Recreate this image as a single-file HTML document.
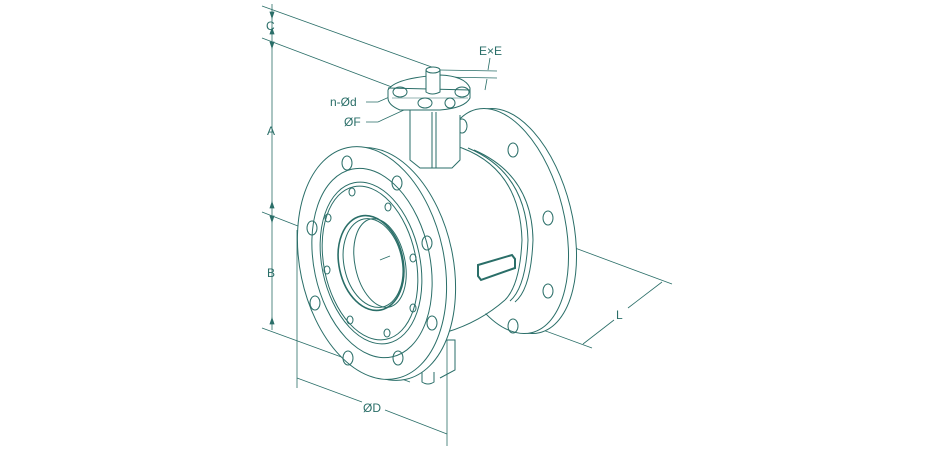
<!DOCTYPE html>
<html><head><meta charset="utf-8"><style>
html,body{margin:0;padding:0;background:#fff;}
svg{display:block}
text{font-family:"Liberation Sans",sans-serif;fill:#2a6e68;font-size:12px}
</style></head><body>
<svg width="940" height="450" viewBox="0 0 940 450" xmlns="http://www.w3.org/2000/svg">
<g fill="none" stroke="#2a6e68" stroke-width="1">
<!-- extension lines -->
<line x1="262" y1="6" x2="440" y2="70" stroke-width="0.8"/>
<line x1="262" y1="38" x2="405" y2="92" stroke-width="0.8"/>
<line x1="262" y1="212" x2="380" y2="258" stroke-width="0.8"/>
<line x1="262" y1="328" x2="410" y2="382" stroke-width="0.8"/>
<!-- vertical dim -->
<line x1="272" y1="4" x2="272" y2="330" stroke-width="0.8"/>
<path d="M270 12 l2 6 l2 -6 Z M270 34 l2 -6 l2 6 Z M270 42 l2 6 l2 -6 Z M270 208 l2 -6 l2 6 Z M270 216 l2 6 l2 -6 Z M270 324 l2 -6 l2 6 Z" fill="#2a6e68" stroke-width="0.8"/>
<!-- ØD -->
<line x1="297" y1="230" x2="297" y2="388" stroke-width="0.8"/>
<line x1="447" y1="340" x2="447" y2="446" stroke-width="0.8"/>
<line x1="297" y1="378" x2="362" y2="402" stroke-width="0.8"/>
<line x1="385" y1="410" x2="447" y2="434" stroke-width="0.8"/>
<!-- L -->
<line x1="575" y1="248" x2="672" y2="284" stroke-width="0.8"/>
<line x1="450" y1="296" x2="592" y2="348" stroke-width="0.8"/>
<line x1="583" y1="344" x2="614" y2="320" stroke-width="0.8"/>
<line x1="628" y1="308" x2="662" y2="282" stroke-width="0.8"/>
<!-- E x E -->
<line x1="440" y1="70" x2="497" y2="71" stroke-width="0.8"/>
<line x1="440" y1="77" x2="497" y2="78" stroke-width="0.8"/>
<line x1="490" y1="58" x2="488" y2="70" stroke-width="0.8"/>
<line x1="487" y1="79" x2="485" y2="90" stroke-width="0.8"/>
<!-- leaders -->
<path d="M366 102 h12 l18 -8" stroke-width="0.8"/>
<path d="M366 122 h12 l26 -12" stroke-width="0.8"/>

<!-- back flange -->
<ellipse cx="512" cy="221" rx="60" ry="115" transform="rotate(-14 512 221)" fill="#fff"/>
<ellipse cx="504" cy="221" rx="60" ry="115" transform="rotate(-14 504 221)" fill="#fff"/>
<ellipse cx="462" cy="126" rx="5" ry="7"/>
<ellipse cx="513" cy="150" rx="5" ry="7"/>
<ellipse cx="548" cy="218" rx="5" ry="7"/>
<ellipse cx="548" cy="291" rx="5" ry="7"/>
<ellipse cx="513" cy="326" rx="5" ry="7"/>
<!-- body -->
<path d="M410 153 Q440 140 462 148 Q520 170 522 240 Q520 285 505 300 Q480 320 447 332 L400 332 L400 153 Z" fill="#fff" stroke="none"/>
<path d="M410 153 Q440 140 462 148"/>
<path d="M462 148 Q520 170 522 240 Q520 285 505 300"/>
<path d="M468 148 Q526 172 528 240 Q526 287 510 301"/>
<path d="M474 150 Q532 175 533 240 Q531 289 515 302"/>
<path d="M447 332 Q480 322 505 300"/>
<!-- neck -->
<path d="M410 110 L410 160 L420 168 L452 168 L460 160 L460 115" fill="#fff"/>
<line x1="432" y1="112" x2="432" y2="168"/>
<line x1="436" y1="112" x2="436" y2="168"/>
<!-- top plate -->
<path d="M388 90 Q395 78 440 75 Q465 76 470 88 L470 98 Q465 108 440 110 L400 110 Q388 105 388 98 Z" fill="#fff"/>
<path d="M388 88 L470 90" />
<path d="M392 98 L468 98" stroke-width="0.6"/>
<ellipse cx="400" cy="92" rx="7" ry="5"/>
<ellipse cx="462" cy="92" rx="7" ry="5"/>
<ellipse cx="425" cy="103" rx="7" ry="5"/>
<circle cx="450" cy="103" r="5"/>
<!-- stem -->
<path d="M426 70 L426 92 Q432 96 440 92 L440 70" fill="#fff"/>
<ellipse cx="433" cy="70" rx="7" ry="3" fill="#fff"/>
<!-- front flange -->
<ellipse cx="381" cy="264" rx="72" ry="118" transform="rotate(-12 381 264)" fill="#fff"/>
<ellipse cx="372" cy="263" rx="72" ry="118" transform="rotate(-12 372 263)" fill="#fff"/>
<ellipse cx="372" cy="263" rx="58" ry="96" transform="rotate(-12 372 263)"/>
<ellipse cx="371" cy="263" rx="49" ry="82" transform="rotate(-12 371 263)"/>
<ellipse cx="370" cy="263" rx="46" ry="78" transform="rotate(-12 370 263)"/>
<ellipse cx="371" cy="263" rx="32" ry="48" transform="rotate(-12 371 263)" stroke-width="1.6"/>
<ellipse cx="373" cy="263" rx="29" ry="45" transform="rotate(-12 373 263)"/>
<ellipse cx="380" cy="263" rx="25" ry="45" transform="rotate(-12 380 263)"/>
<!-- outer holes -->
<ellipse cx="347" cy="163" rx="5" ry="7"/>
<ellipse cx="397" cy="183" rx="5" ry="7"/>
<ellipse cx="427" cy="243" rx="5" ry="7"/>
<ellipse cx="432" cy="323" rx="5" ry="7"/>
<ellipse cx="398" cy="358" rx="5" ry="7"/>
<ellipse cx="348" cy="358" rx="5" ry="7"/>
<ellipse cx="315" cy="303" rx="5" ry="7"/>
<ellipse cx="312" cy="228" rx="5" ry="7"/>
<!-- inner holes -->
<ellipse cx="352" cy="192" rx="3" ry="4"/>
<ellipse cx="388" cy="207" rx="3" ry="4"/>
<ellipse cx="413" cy="258" rx="3" ry="4"/>
<ellipse cx="413" cy="308" rx="3" ry="4"/>
<ellipse cx="387" cy="333" rx="3" ry="4"/>
<ellipse cx="350" cy="320" rx="3" ry="4"/>
<ellipse cx="327" cy="270" rx="3" ry="4"/>
<ellipse cx="328" cy="218" rx="3" ry="4"/>
<!-- centre mark -->
<path d="M380 260 l10 -4" stroke-width="0.8"/>
<!-- bottom foot -->
<path d="M447 340 L455 340 L455 370 L440 378" />
<path d="M422 372 L422 382 Q428 386 434 382 L434 372"/>
<!-- nameplate -->
<path d="M478 265 L512 255 L515 259 L515 268 L481 280 L478 276 Z" stroke-width="2"/>
</g>
<text x="266" y="30" font-size="11">C</text>
<text x="267" y="135">A</text>
<text x="267" y="277">B</text>
<text x="363" y="412">ØD</text>
<text x="616" y="319">L</text>
<text x="479" y="55">E×E</text>
<text x="330" y="106">n-Ød</text>
<text x="344" y="126">ØF</text>
</svg>
</body></html>
